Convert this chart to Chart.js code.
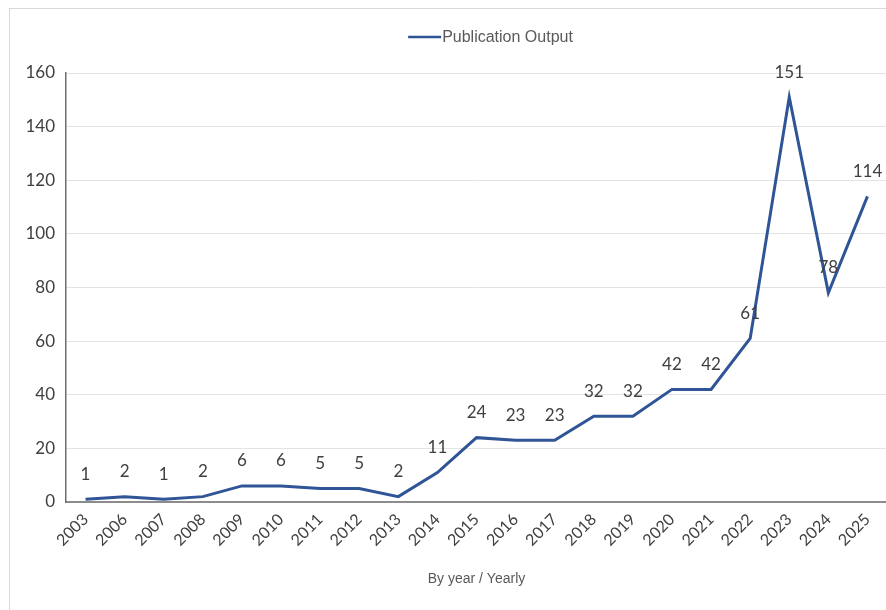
<!DOCTYPE html>
<html>
<head>
<meta charset="utf-8">
<script src="https://cdn.jsdelivr.net/npm/chart.js@4.4.1/dist/chart.umd.min.js"></script>
<style>
  html, body { margin: 0; padding: 0; background: #fff; overflow: hidden; }
  #wrap { width: 900px; height: 610px; }
</style>
</head>
<body>
<div id="wrap"><canvas id="pubChart"></canvas></div>
<script>
// yearly publication counts
const years = ['2003', '2006', '2007', '2008', '2009', '2010', '2011', '2012', '2013', '2014',
               '2015', '2016', '2017', '2018', '2019', '2020', '2021', '2022', '2023', '2024', '2025'];
const publications = [1, 2, 1, 2, 6, 6, 5, 5, 2, 11, 24, 23, 23, 32, 32, 42, 42, 61, 151, 78, 114];
const yTicks = [0, 20, 40, 60, 80, 100, 120, 140, 160];

const LINE_BLUE = '#2F5597';

// thin grey frame around the whole chart
const framePlugin = {
    id: 'frame',
    beforeDraw(chart) {
        const ctx = chart.ctx;
        ctx.save();
        ctx.strokeStyle = '#d9d9d9';
        ctx.lineWidth = 1;
        ctx.strokeRect(9.5, 8.5, 1000, 1000);
        ctx.restore();
    }
};

// compact legend: short line sample with the label right next to it
const lineLegend = {
    id: 'lineLegend',
    afterDraw(chart) {
        const ctx = chart.ctx;
        const ds = chart.data.datasets[0];
        const y = 37;
        ctx.save();
        ctx.font = '16px "Liberation Sans", Arial, sans-serif';
        const textW = ctx.measureText(ds.label).width;
        const sampleW = 33;
        const startX = (chart.chartArea.left + chart.chartArea.right) / 2 + 14 - (sampleW + 1 + textW) / 2;
        ctx.strokeStyle = ds.borderColor;
        ctx.lineWidth = 2.5;
        ctx.beginPath();
        ctx.moveTo(startX, y);
        ctx.lineTo(startX + sampleW, y);
        ctx.stroke();
        ctx.fillStyle = '#595959';
        ctx.textAlign = 'left';
        ctx.textBaseline = 'middle';
        ctx.fillText(ds.label, startX + sampleW + 1, y + 1);
        ctx.restore();
    }
};

// value labels above each point
const valueLabels = {
    id: 'valueLabels',
    afterDatasetsDraw(chart) {
        const ctx = chart.ctx;
        const meta = chart.getDatasetMeta(0);
        const data = chart.data.datasets[0].data;
        ctx.save();
        ctx.font = '17px Lato, "DejaVu Sans", sans-serif';
        ctx.fillStyle = '#404040';
        ctx.textAlign = 'center';
        ctx.textBaseline = 'middle';
        meta.data.forEach((pt, i) => {
            ctx.fillText(String(data[i]), pt.x, pt.y - 25);
        });
        ctx.restore();
    }
};

const ctx = document.getElementById('pubChart');
new Chart(ctx, {
    type: 'line',
    data: {
        labels: years,
        datasets: [{
            label: 'Publication Output',
            data: publications,
            borderColor: LINE_BLUE,
            backgroundColor: LINE_BLUE,
            borderWidth: 3,
            pointRadius: 0,
            tension: 0,
            fill: false
        }]
    },
    options: {
        responsive: true,
        maintainAspectRatio: false,
        animation: false,
        layout: { padding: { top: 73, right: 13, left: 0, bottom: 0 } },
        plugins: {
            legend: { display: false },
            tooltip: { enabled: false }
        },
        scales: {
            x: {
                offset: true,
                grid: { display: false },
                border: { display: true, color: '#8c8c8c', width: 2 },
                ticks: {
                    minRotation: 45,
                    maxRotation: 45,
                    padding: 0,
                    color: '#404040',
                    font: { family: 'Lato, sans-serif', size: 16 }
                },
                title: {
                    display: true,
                    text: 'By year / Yearly',
                    color: '#595959',
                    padding: { top: 4, bottom: 22 },
                    font: { family: '"Liberation Sans", Arial, sans-serif', size: 14 }
                },
                afterFit(scale) { scale.height = 108; }
            },
            y: {
                min: 0,
                max: 160,
                afterBuildTicks(scale) {
                    scale.ticks = yTicks.map(v => ({ value: v }));
                },
                grid: { color: '#e3e3e3', lineWidth: 1, drawTicks: false },
                border: { display: true, color: '#6e6e6e', width: 1.5 },
                ticks: {
                    padding: 11,
                    color: '#404040',
                    font: { family: 'Lato, sans-serif', size: 17 }
                },
                afterFit(scale) { scale.width = 66; }
            }
        }
    },
    plugins: [framePlugin, lineLegend, valueLabels]
});
</script>
</body>
</html>
